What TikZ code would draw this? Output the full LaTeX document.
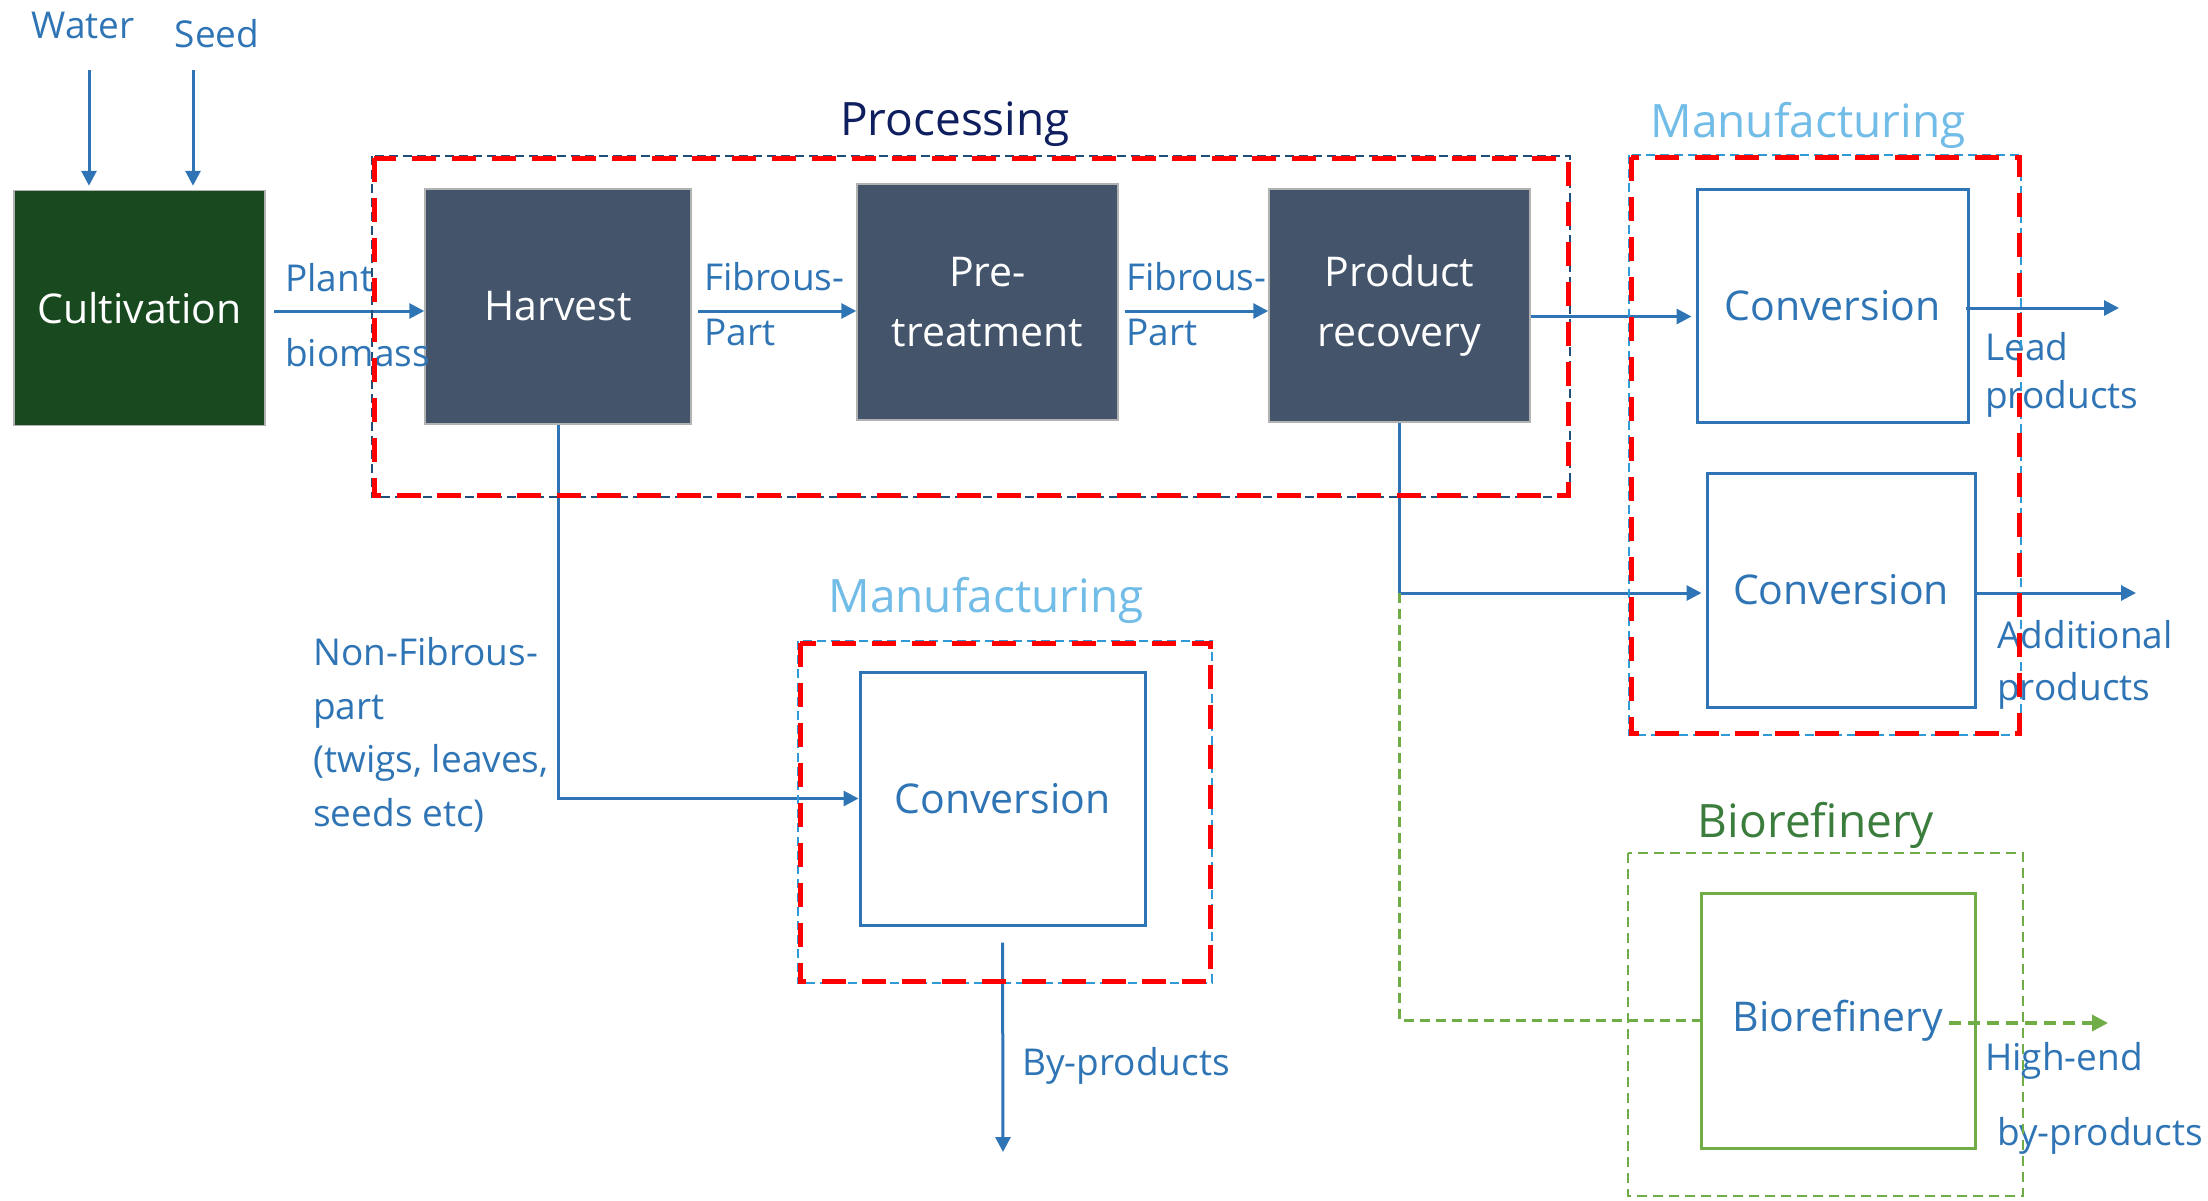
\documentclass[tikz,border=0pt]{standalone}
\usepackage{fontspec}
\setmainfont{Open Sans}
\usetikzlibrary{arrows.meta}

\definecolor{flowblue}{HTML}{2F75B5}
\definecolor{slatebox}{HTML}{44546A}
\definecolor{fieldgreen}{HTML}{19491F}
\definecolor{navytitle}{HTML}{0E1E5E}
\definecolor{skytitle}{HTML}{72BCE8}
\definecolor{forestitle}{HTML}{3A7D3C}
\definecolor{leafgreen}{HTML}{70AD47}
\definecolor{navydash}{HTML}{1F4E79}
\definecolor{skydash}{HTML}{2E9BD6}
\definecolor{redline}{HTML}{FF0000}

\tikzset{
  labelfont/.style={font=\fontsize{37}{54}\selectfont},
  boxfont/.style={font=\fontsize{41}{60}\selectfont},
  titlefont/.style={font=\fontsize{46}{52}\selectfont},
  lbl/.style={labelfont, text=flowblue, anchor=base west, inner sep=0pt},
  darkbox/.style={draw=gray!60, line width=1.5pt, fill=slatebox, text=white,
    boxfont, align=center, inner sep=0pt},
  fieldbox/.style={draw=gray!60, line width=1.5pt, fill=fieldgreen, text=white,
    boxfont, align=center, inner sep=0pt},
  convbox/.style={draw=flowblue, line width=3pt, fill=white, text=flowblue,
    boxfont, align=center, inner sep=0pt},
  biobox/.style={draw=leafgreen, line width=3pt, fill=white, text=flowblue,
    boxfont, align=center, inner sep=0pt},
  arr/.style={draw=flowblue, line width=3pt, -{Triangle[length=15pt,width=15pt]}},
  greenlink/.style={draw=leafgreen, line width=2.5pt, dash pattern=on 10pt off 6pt},
  greenarr/.style={draw=leafgreen, line width=3.5pt, dash pattern=on 12pt off 7pt,
    -{Triangle[length=16pt,width=16pt]}},
  redframe/.style={draw=redline, line width=5pt, dash pattern=on 24pt off 16pt},
  navyframe/.style={draw=navydash, line width=2pt, dash pattern=on 9pt off 5pt},
  skyframe/.style={draw=skydash, line width=2pt, dash pattern=on 9pt off 5pt},
  greenframe/.style={draw=leafgreen, line width=2pt, dash pattern=on 10pt off 6pt},
  title/.style={titlefont, anchor=base, inner sep=0pt},
}

\begin{document}
\begin{tikzpicture}[x=1pt, y=-1pt]
\useasboundingbox (0,0) rectangle (2208,1200);
\fill[white] (0,0) rectangle (2208,1200);

% ---- process boxes ----
\node[fieldbox, minimum width=251pt, minimum height=235pt] (cult) at (139.5,308) {Cultivation};
\node[darkbox, minimum width=266pt, minimum height=235pt] (harvest) at (558,306.5) {Harvest};
\node[darkbox, minimum width=261pt, minimum height=236pt] (pretreat) at (987.5,302) {Pre-\\treatment};
\node[darkbox, minimum width=261pt, minimum height=233pt] (prodrec) at (1399.5,305.5) {Product\\recovery};
\node[convbox, minimum width=271pt, minimum height=233pt] (conv1) at (1832.5,305.5) {Conversion};
\node[convbox, minimum width=268pt, minimum height=234pt] (conv2) at (1841,590) {Conversion};
\node[convbox, minimum width=285pt, minimum height=253pt] (conv3) at (1002.5,798.5) {Conversion};
\node[biobox, minimum width=274pt, minimum height=255pt] (bioin) at (1838,1020.5) {Biorefinery};

% ---- inputs ----
\node[labelfont, text=flowblue, anchor=base, inner sep=0pt] (water) at (83,38) {Water};
\node[labelfont, text=flowblue, anchor=base, inner sep=0pt] (seed) at (217,47) {Seed};
\coordinate (w0) at (89,70);
\coordinate (s0) at (193,70);
\draw[arr, shorten >=4pt] (w0) -- (w0 |- cult.north);
\draw[arr, shorten >=4pt] (s0) -- (s0 |- cult.north);

% ---- main flow (all at the common flow height) ----
\coordinate (flowy) at (0,311);
\draw[arr, shorten <=8pt] (cult.east |- flowy) -- (harvest.west |- flowy);
\draw[arr, shorten <=6pt] (harvest.east |- flowy) -- (pretreat.west |- flowy);
\draw[arr, shorten <=6pt] (pretreat.east |- flowy) -- (prodrec.west |- flowy);
\draw[arr, shorten >=4pt] ([yshift=-11pt]prodrec.east) -- ([yshift=-11pt]conv1.west);

\coordinate (leadend) at (2119,308);
\coordinate (addend) at (2136,593);
\coordinate (bioend) at (2108,1023);
\coordinate (byend) at (1003,1152);
\draw[arr, shorten <=-4pt] (conv1.east |- leadend) -- (leadend);
\draw[arr] (conv2.east |- addend) -- (addend);

% recovery branch to second conversion and to the biorefinery
\coordinate (split) at (prodrec.south |- addend);
\draw[arr, shorten >=4pt] (prodrec.south) -- (split) -- (conv2.west |- split);
\draw[greenlink] (split) |- (bioin.west);
\draw[greenarr] ([xshift=-28pt]bioin.east |- bioend) -- (bioend);

% harvest residue branch
\draw[arr] (harvest.south) |- (conv3.west);
\draw[arr, shorten <=16pt] (conv3.south) -- (byend);

% ---- flow labels ----
\node[lbl] (plant) at (285,291) {Plant};
\node[lbl] (biomass) at (285,366) {biomass};
\node[lbl] (fib1) at (704,290) {Fibrous-};
\node[lbl] (part1) at (704,345) {Part};
\node[lbl] (fib2) at (1126,290) {Fibrous-};
\node[lbl] (part2) at (1126,345) {Part};
\node[lbl] (lead) at (1985,360) {Lead};
\node[lbl] (leadprod) at (1985,408) {products};
\node[lbl] (addl) at (1997,648) {Additional};
\node[lbl] (addprod) at (1997,700) {products};
\node[lbl] (highend) at (1985,1070) {High-end};
\node[lbl] (hibyprod) at (1997,1145) {by-products};
\node[lbl] (byprod) at (1022,1075) {By-products};
\node[lbl] (nf1) at (313,665) {Non-Fibrous-};
\node[lbl] (nf2) at (313,719) {part};
\node[lbl] (nf3) at (313,772) {(twigs, leaves,};
\node[lbl] (nf4) at (313,826) {seeds etc)};

% ---- group frames ----
\draw[navyframe] (372,156) rectangle (1570,497);
\draw[redframe] (374,158) rectangle (1568,495);
\draw[skyframe] (1629,155) rectangle (2021,735);
\draw[redframe] (1631,157) rectangle (2019,733);
\draw[skyframe] (798,641) rectangle (1212,983);
\draw[redframe] (800,643) rectangle (1210,981);
\draw[greenframe] (1628,853) rectangle (2023,1196);

% ---- group titles ----
\node[title, text=navytitle] (tproc) at (955,135) {Processing};
\node[title, text=skytitle] (tmanr) at (1808,137) {Manufacturing};
\node[title, text=skytitle] (tmanm) at (986,612) {Manufacturing};
\node[title, text=forestitle] (tbio) at (1816,837) {Biorefinery};
\end{tikzpicture}
\end{document}
